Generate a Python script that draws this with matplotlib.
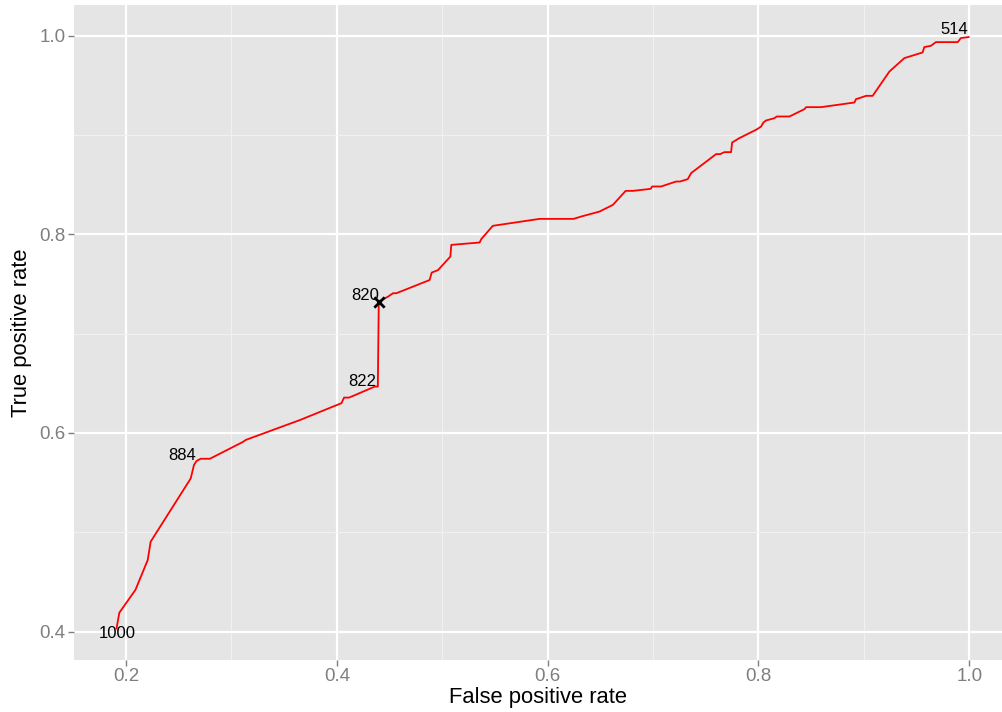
import matplotlib
matplotlib.use("Agg")
from matplotlib import pyplot as plt
from matplotlib.ticker import MultipleLocator

# ROC curve
fpr = [0.191, 0.1937, 0.209, 0.2206, 0.2234, 0.2613, 0.2622, 0.2645, 0.267, 0.2708,
       0.2796, 0.311, 0.3137, 0.365, 0.4044, 0.4069, 0.4117, 0.436, 0.4389, 0.4398,
       0.4439, 0.4486, 0.4533, 0.4565, 0.488, 0.490, 0.496, 0.5077, 0.5086, 0.5355,
       0.537, 0.548, 0.5924, 0.6246, 0.632, 0.6493, 0.6619, 0.674, 0.681, 0.6976,
       0.6991, 0.7076, 0.7218, 0.7256, 0.7329, 0.7361, 0.7598, 0.7636, 0.7677, 0.774,
       0.775, 0.782, 0.7977, 0.8025, 0.8047, 0.8072, 0.8152, 0.8173, 0.8294, 0.8436,
       0.8452, 0.8594, 0.891, 0.8925, 0.8957, 0.902, 0.9083, 0.9242, 0.9384, 0.9557,
       0.9573, 0.9636, 0.9683, 0.989, 0.992, 0.9993]
tpr = [0.403, 0.419, 0.442, 0.472, 0.4905, 0.554, 0.5577, 0.5678, 0.5718, 0.574,
       0.574, 0.591, 0.593, 0.613, 0.630, 0.6356, 0.6356, 0.6467, 0.6467, 0.7323,
       0.7347, 0.7373, 0.7407, 0.7407, 0.754, 0.7615, 0.764, 0.7776, 0.7894, 0.7918,
       0.7952, 0.8086, 0.8156, 0.8156, 0.818, 0.823, 0.8297, 0.8438, 0.8438, 0.8458,
       0.8482, 0.8482, 0.8532, 0.8532, 0.8556, 0.8617, 0.8808, 0.8808, 0.8828, 0.8828,
       0.8925, 0.897, 0.9053, 0.9086, 0.9127, 0.9147, 0.917, 0.9187, 0.9187, 0.9261,
       0.9281, 0.9281, 0.9328, 0.9362, 0.9372, 0.9395, 0.9395, 0.964, 0.9775, 0.9832,
       0.9886, 0.9899, 0.9936, 0.9936, 0.9977, 0.9987]

# cutoff labels and where they sit
cut_labels = ["1000", "884", "822", "820", "514"]
cut_x = [0.1915, 0.2531, 0.4237, 0.4265, 0.9858]
cut_y = [0.3985, 0.5768, 0.6514, 0.738, 1.006]

# chosen cutoff
best_x = [0.4398]
best_y = [0.7323]

plt.rcParams['font.family'] = ['Liberation Sans', 'DejaVu Sans']

fig = plt.figure(figsize=(10.03, 7.12), dpi=100)
ax = fig.add_axes([0.0738, 0.073, 0.9252, 0.920])
ax.set_facecolor('#E5E5E5')
for s in ax.spines.values():
    s.set_visible(False)

ax.set_xlim(0.1507, 1.031)
ax.set_ylim(0.3713, 1.031)
ax.xaxis.set_minor_locator(MultipleLocator(0.1))
ax.yaxis.set_minor_locator(MultipleLocator(0.1))
ax.set_xticks([0.2, 0.4, 0.6, 0.8, 1.0])
ax.set_yticks([0.4, 0.6, 0.8, 1.0])
ax.set_xticklabels(['0.2', '0.4', '0.6', '0.8', '1.0'])
ax.set_yticklabels(['0.4', '0.6', '0.8', '1.0'])
ax.grid(which='major', color='white', linewidth=1.6)
ax.grid(which='minor', color='#F2F2F2', linewidth=0.7)
ax.set_axisbelow(True)
ax.tick_params(which='major', length=4, width=1, color='#7F7F7F',
               labelcolor='#7F7F7F', labelsize=13.5, pad=2)
ax.tick_params(which='minor', length=0)

ax.plot(fpr, tpr, color='red', linewidth=1.3)
ax.scatter(best_x, best_y, marker='x', color='black', s=55, linewidths=2, zorder=3)

for lab, x, y in zip(cut_labels, cut_x, cut_y):
    ax.text(x, y, lab, ha='center', va='center', fontsize=12, color='black')

ax.set_xlabel("False positive rate", fontsize=15.8, labelpad=1)
ax.set_ylabel("True positive rate", fontsize=15.8, labelpad=5)

fig.savefig("out.png", dpi=100)
